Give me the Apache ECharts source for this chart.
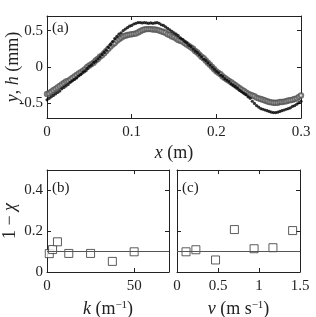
<!DOCTYPE html>
<html><head><meta charset="utf-8">
<script src="https://cdn.jsdelivr.net/npm/echarts@6/dist/echarts.min.js"></script>
<style>html,body{margin:0;padding:0;background:#fff}#c{width:316px;height:317px}</style>
</head><body><div id="c"></div>
<script>
// ---- data (panel a) ----
const xPos = [
 0.000,0.0025,0.005,0.0075,0.010,0.0125,0.015,0.0175,0.020,0.0225,
 0.025,0.0275,0.030,0.0325,0.035,0.0375,0.040,0.0425,0.045,0.0475,
 0.050,0.0525,0.055,0.0575,0.060,0.0625,0.065,0.0675,0.070,0.0725,
 0.075,0.0775,0.080,0.0825,0.085,0.0875,0.090,0.0925,0.095,0.0975,
 0.100,0.1025,0.105,0.1075,0.110,0.1125,0.115,0.1175,0.120,0.1225,
 0.125,0.1275,0.130,0.1325,0.135,0.1375,0.140,0.1425,0.145,0.1475,
 0.150,0.1525,0.155,0.1575,0.160,0.1625,0.165,0.1675,0.170,0.1725,
 0.175,0.1775,0.180,0.1825,0.185,0.1875,0.190,0.1925,0.195,0.1975,
 0.200,0.2025,0.205,0.2075,0.210,0.2125,0.215,0.2175,0.220,0.2225,
 0.225,0.2275,0.230,0.2325,0.235,0.2375,0.240,0.2425,0.245,0.2475,
 0.250,0.2525,0.255,0.2575,0.260,0.2625,0.265,0.2675,0.270,0.2725,
 0.275,0.2775,0.280,0.2825,0.285,0.2875,0.290,0.2925,0.295,0.2975,
 0.300];
const yFilled = [
 -0.45,-0.43,-0.41,-0.39,-0.37,-0.35,-0.33,-0.30,-0.28,-0.26,
 -0.24,-0.21,-0.19,-0.17,-0.15,-0.12,-0.10,-0.07,-0.05,-0.02,
 0.01,0.03,0.06,0.08,0.11,0.14,0.17,0.20,0.23,0.27,
 0.31,0.35,0.39,0.42,0.45,0.47,0.50,0.52,0.54,0.56,
 0.57,0.59,0.60,0.61,0.61,0.605,0.61,0.605,0.60,0.605,
 0.60,0.605,0.61,0.60,0.58,0.57,0.55,0.53,0.51,0.49,
 0.47,0.45,0.43,0.40,0.38,0.35,0.33,0.30,0.28,0.25,
 0.22,0.20,0.17,0.14,0.11,0.09,0.06,0.03,0.00,-0.03,
 -0.06,-0.08,-0.11,-0.13,-0.16,-0.18,-0.20,-0.23,-0.25,-0.27,
 -0.29,-0.32,-0.34,-0.36,-0.38,-0.41,-0.43,-0.47,-0.50,-0.53,
 -0.55,-0.57,-0.58,-0.59,-0.60,-0.61,-0.62,-0.625,-0.625,-0.62,
 -0.61,-0.60,-0.59,-0.58,-0.57,-0.56,-0.54,-0.53,-0.51,-0.49,
 -0.47];
const hOpen = [
 -0.37,-0.36,-0.34,-0.32,-0.30,-0.28,-0.26,-0.24,-0.22,-0.20,
 -0.19,-0.17,-0.15,-0.13,-0.11,-0.09,-0.07,-0.05,-0.03,0.00,
 0.02,0.04,0.06,0.09,0.11,0.14,0.16,0.19,0.22,0.25,
 0.28,0.31,0.33,0.36,0.38,0.40,0.42,0.43,0.44,0.445,
 0.45,0.455,0.46,0.475,0.49,0.505,0.515,0.52,0.52,0.52,
 0.515,0.515,0.51,0.50,0.49,0.48,0.47,0.45,0.44,0.42,
 0.41,0.39,0.37,0.36,0.35,0.33,0.31,0.29,0.27,0.25,
 0.22,0.20,0.17,0.14,0.12,0.09,0.06,0.03,0.00,-0.03,
 -0.06,-0.08,-0.10,-0.13,-0.15,-0.17,-0.19,-0.21,-0.23,-0.25,
 -0.27,-0.29,-0.31,-0.33,-0.35,-0.365,-0.38,-0.39,-0.40,-0.42,
 -0.43,-0.44,-0.45,-0.46,-0.47,-0.48,-0.485,-0.49,-0.49,-0.49,
 -0.48,-0.48,-0.475,-0.47,-0.46,-0.455,-0.45,-0.44,-0.43,-0.41,
 -0.39];
// ---- data (panels b, c) ----
const kValues = [1.3, 3.2, 6.0, 12.5, 25, 37.5, 50];
const kChi    = [0.090, 0.110, 0.148, 0.091, 0.091, 0.052, 0.099];
const vValues = [0.11, 0.23, 0.47, 0.70, 0.94, 1.17, 1.41];
const vChi    = [0.099, 0.109, 0.059, 0.208, 0.114, 0.119, 0.203];
const refLevel = 0.1;
// ---- ticks ----
const xTicksA = [0, 0.1, 0.2, 0.3];
const yTicksA = [-0.5, 0, 0.5];
const kTicks = [0, 50];
const vTicks = [0, 0.5, 1, 1.5];
const chiTicks = [0, 0.2, 0.4];

const SERIF = '"Liberation Serif","DejaVu Serif",serif';
const INK = '#222';
const tickFont = {fontFamily: SERIF, fontSize: 15, color: INK};
const nameRich = {
  i: {fontFamily: SERIF, fontStyle: 'italic', fontSize: 18, color: INK},
  n: {fontFamily: SERIF, fontSize: 18, color: INK},
  s: {fontFamily: SERIF, fontSize: 11, color: INK, verticalAlign: 'top', padding: [0,0,8,0]}
};

function axis(kind, grid, min, max, ticks, opts) {
  opts = opts || {};
  const secondary = !!opts.secondary;
  const a = {
    type: 'value', gridIndex: grid, min: min, max: max,
    position: opts.position,
    axisLine: {show: true, onZero: false, lineStyle: {color: INK, width: 1}},
    axisTick: {show: true, inside: true, length: 4, customValues: ticks, lineStyle: {color: INK}},
    axisLabel: secondary || opts.noLabel ? {show: false} :
      {show: true, customValues: ticks, margin: kind === 'x' ? 7 : 4, ...tickFont},
    splitLine: {show: false}
  };
  if (opts.name) {
    a.name = opts.name; a.nameLocation = 'middle'; a.nameGap = opts.nameGap;
    a.nameMoveOverlap = false;
    a.nameTextStyle = {rich: nameRich, fontFamily: SERIF, fontSize: 18, color: INK};
  }
  return a;
}

const chart = echarts.init(document.getElementById('c'), null, {renderer: 'canvas'});
chart.setOption({
  animation: false,
  backgroundColor: '#fff',
  grid: [
    {left: 47, top: 16, width: 254, height: 102, containLabel: false, outerBoundsMode: 'none'},
    {left: 47, top: 170, width: 122, height: 102, containLabel: false, outerBoundsMode: 'none'},
    {left: 177, top: 170, width: 123, height: 102, containLabel: false, outerBoundsMode: 'none'}
  ],
  xAxis: [
    axis('x', 0, 0, 0.3, xTicksA, {position: 'bottom', name: '{i|x} {n|(m)}', nameGap: 26}),
    axis('x', 0, 0, 0.3, xTicksA, {position: 'top', secondary: true}),
    axis('x', 1, 0, 70, kTicks, {position: 'bottom', name: '{i|k} {n|(m}{s|−1}{n|)}', nameGap: 28}),
    axis('x', 1, 0, 70, kTicks, {position: 'top', secondary: true}),
    axis('x', 2, 0, 1.5, vTicks, {position: 'bottom', name: '{i|v} {n|(m s}{s|−1}{n|)}', nameGap: 28}),
    axis('x', 2, 0, 1.5, vTicks, {position: 'top', secondary: true})
  ],
  yAxis: [
    axis('y', 0, -0.7, 0.7, yTicksA, {position: 'left', name: '{i|y}{n|,} {i|h} {n|(mm)}', nameGap: 25}),
    axis('y', 0, -0.7, 0.7, yTicksA, {position: 'right', secondary: true}),
    axis('y', 1, 0, 0.5, chiTicks, {position: 'left', name: '{n|1 − }{i|χ}', nameGap: 28}),
    axis('y', 1, 0, 0.5, chiTicks, {position: 'right', secondary: true}),
    axis('y', 2, 0, 0.5, chiTicks, {position: 'left', noLabel: true}),
    axis('y', 2, 0, 0.5, chiTicks, {position: 'right', secondary: true})
  ],
  series: [
    {type: 'scatter', xAxisIndex: 0, yAxisIndex: 0, symbol: 'emptyCircle', symbolSize: 4.4,
     itemStyle: {color: '#555', borderWidth: 0.6},
     data: xPos.map((x, i) => [x, hOpen[i]])},
    {type: 'scatter', xAxisIndex: 0, yAxisIndex: 0, symbol: 'circle', symbolSize: 3.2,
     itemStyle: {color: '#000'},
     data: xPos.map((x, i) => [x, yFilled[i]])},
    {type: 'scatter', xAxisIndex: 2, yAxisIndex: 2, symbol: 'rect', symbolSize: 8,
     itemStyle: {color: '#fff', borderColor: '#333', borderWidth: 1},
     markLine: {symbol: 'none', silent: true, label: {show: false},
       lineStyle: {color: '#555', width: 1, type: 'solid'}, data: [{yAxis: refLevel}]},
     data: kValues.map((k, i) => [k, kChi[i]])},
    {type: 'scatter', xAxisIndex: 4, yAxisIndex: 4, symbol: 'rect', symbolSize: 8,
     itemStyle: {color: '#fff', borderColor: '#333', borderWidth: 1},
     markLine: {symbol: 'none', silent: true, label: {show: false},
       lineStyle: {color: '#555', width: 1, type: 'solid'}, data: [{yAxis: refLevel}]},
     data: vValues.map((v, i) => [v, vChi[i]])}
  ],
  graphic: [
    {type: 'text', left: 52, top: 21, z: 100, style: {text: '(a)', font: '15px ' + SERIF, fill: INK}},
    {type: 'text', left: 52, top: 181, z: 100, style: {text: '(b)', font: '15px ' + SERIF, fill: INK}},
    {type: 'text', left: 182, top: 181, z: 100, style: {text: '(c)', font: '15px ' + SERIF, fill: INK}}
  ]
});
</script>
</body></html>
